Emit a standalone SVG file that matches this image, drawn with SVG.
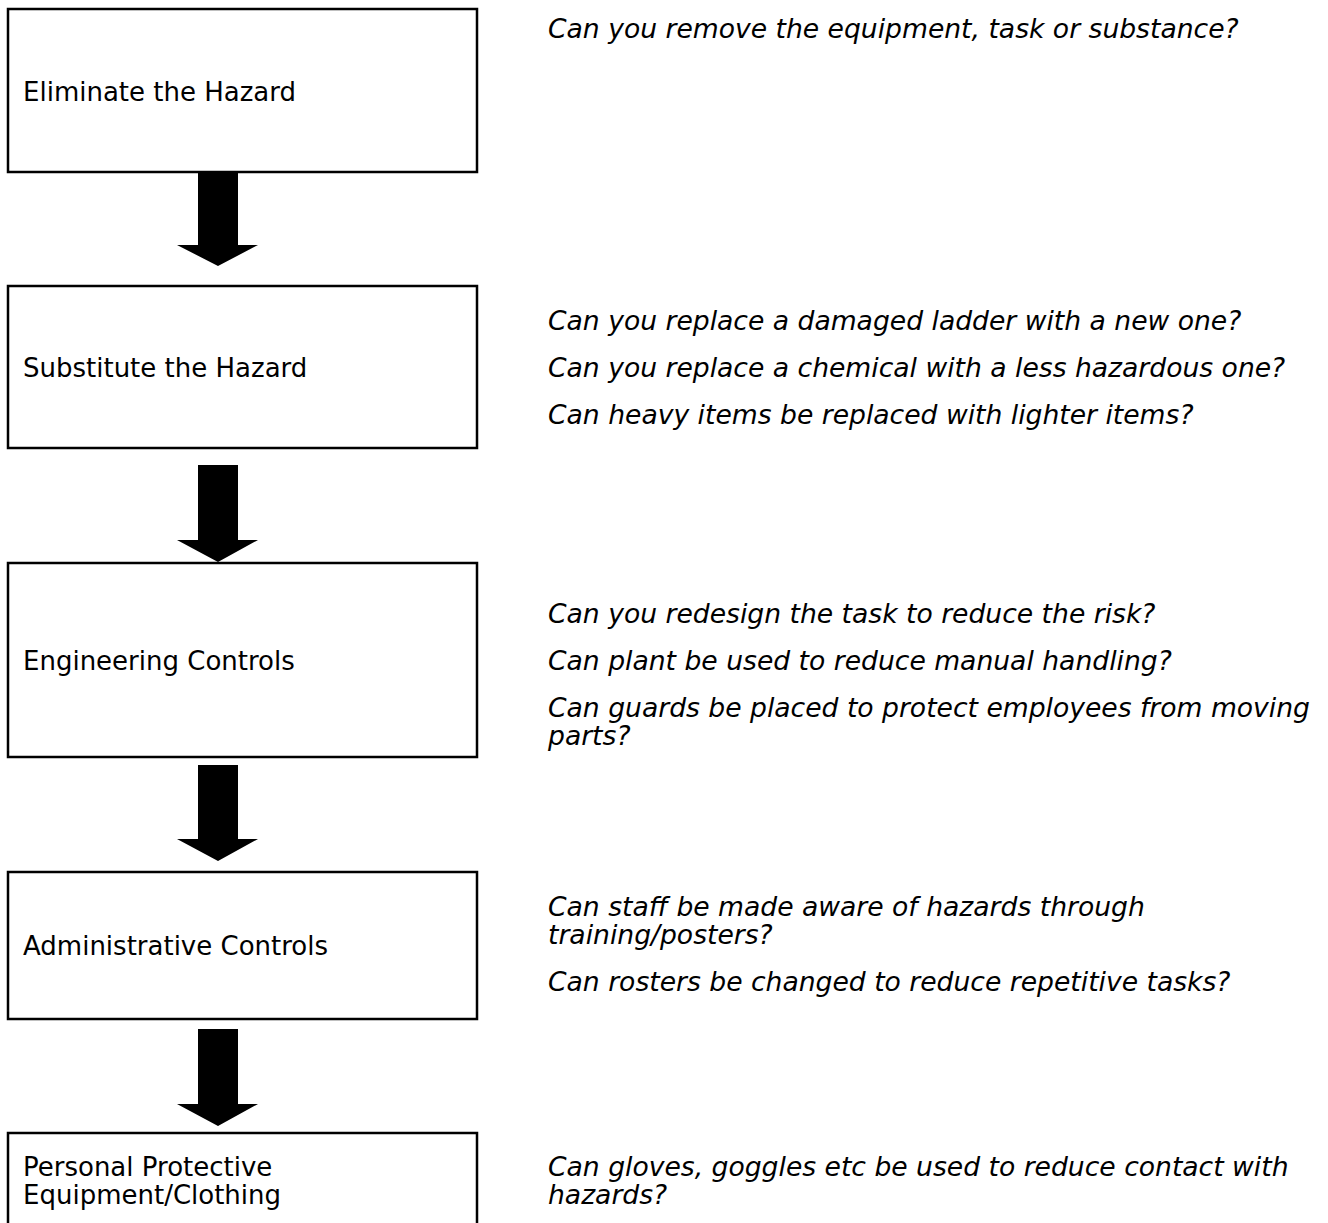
<svg xmlns="http://www.w3.org/2000/svg" width="1328" height="1223" viewBox="0 0 1328 1223">
<style>
.box{fill:#fff;stroke:#000;stroke-width:2.5}
.lbl{font-family:"DejaVu Sans","Liberation Sans",sans-serif;font-size:26px;fill:#000}
.q{font-family:"DejaVu Sans","Liberation Sans",sans-serif;font-size:26.6px;font-style:italic;fill:#000}
.arr{fill:#000}
</style>
<rect width="1328" height="1223" fill="#fff"/>
<g id="connectors">
<polygon class="arr" points="198,170 238,170 238,245 258,245 218,266 177,245 198,245"/>
<polygon class="arr" points="198,465 238,465 238,540 258,540 218,562 177,540 198,540"/>
<polygon class="arr" points="198,765 238,765 238,839 258,839 218,861 177,839 198,839"/>
<polygon class="arr" points="198,1029 238,1029 238,1104 258,1104 218,1126 177,1104 198,1104"/>
</g>
<g id="eliminate">
<rect class="box" x="8" y="9" width="469" height="163"/>
<text class="lbl" x="23" y="101">Eliminate the Hazard</text>
<text class="q" x="548" y="38">Can you remove the equipment, task or substance?</text>
</g>
<g id="substitute">
<rect class="box" x="8" y="286" width="469" height="162"/>
<text class="lbl" x="23" y="377">Substitute the Hazard</text>
<text class="q" x="548" y="330">Can you replace a damaged ladder with a new one?</text>
<text class="q" x="548" y="377">Can you replace a chemical with a less hazardous one?</text>
<text class="q" x="548" y="424">Can heavy items be replaced with lighter items?</text>
</g>
<g id="engineering">
<rect class="box" x="8" y="563" width="469" height="194"/>
<text class="lbl" x="23" y="670">Engineering Controls</text>
<text class="q" x="548" y="623">Can you redesign the task to reduce the risk?</text>
<text class="q" x="548" y="670">Can plant be used to reduce manual handling?</text>
<text class="q" x="548" y="717">Can guards be placed to protect employees from moving</text>
<text class="q" x="548" y="745">parts?</text>
</g>
<g id="administrative">
<rect class="box" x="8" y="872" width="469" height="147"/>
<text class="lbl" x="23" y="955">Administrative Controls</text>
<text class="q" x="548" y="916">Can staff be made aware of hazards through</text>
<text class="q" x="548" y="944">training/posters?</text>
<text class="q" x="548" y="991">Can rosters be changed to reduce repetitive tasks?</text>
</g>
<g id="ppe">
<rect class="box" x="8" y="1133" width="469" height="140"/>
<text class="lbl" x="23" y="1176">Personal Protective</text>
<text class="lbl" x="23" y="1204">Equipment/Clothing</text>
<text class="q" x="548" y="1176">Can gloves, goggles etc be used to reduce contact with</text>
<text class="q" x="548" y="1204">hazards?</text>
</g>
</svg>
